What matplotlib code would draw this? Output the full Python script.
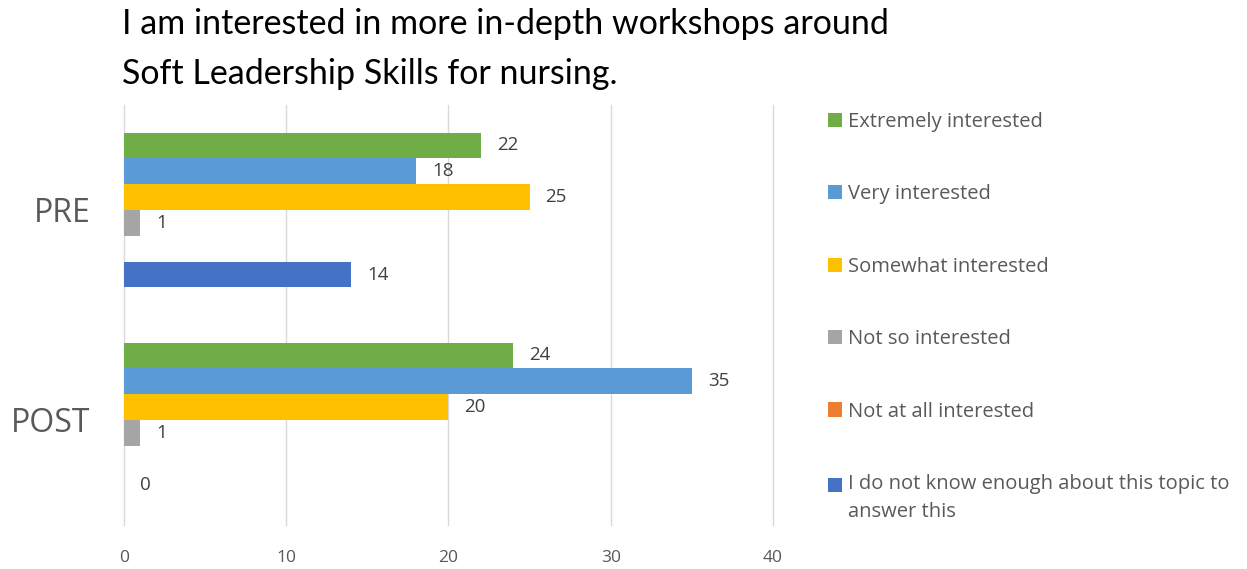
import numpy as np
import matplotlib
matplotlib.use("Agg")
import matplotlib.pyplot as plt
from matplotlib.patches import Patch, Rectangle
from matplotlib.legend_handler import HandlerPatch

categories = ["PRE", "POST"]
series = ["Extremely interested", "Very interested", "Somewhat interested",
          "Not so interested", "Not at all interested",
          "I do not know enough about this topic to\nanswer this"]
values = {
    "Extremely interested": [22, 24],
    "Very interested": [18, 35],
    "Somewhat interested": [25, 20],
    "Not so interested": [1, 1],
    "Not at all interested": [np.nan, np.nan],
    "I do not know enough about this topic to\nanswer this": [14, 0],
}
colors = ["#70AD47", "#5B9BD5", "#FFC000", "#A5A5A5", "#ED7D31", "#4472C4"]
xticks = [0, 10, 20, 30, 40]
title = "I am interested in more in-depth workshops around\nSoft Leadership Skills for nursing."

W, H = 1247, 569
fig = plt.figure(figsize=(W / 100, H / 100), dpi=100)
ax = fig.add_axes([124 / W, 1 - 525 / H, (773 - 124) / W, 420 / H])

font = "Open Sans"
txt_col = "#595959"
n = len(series)
bh = 25.8 / 210
y0 = np.arange(len(categories))
for i, s in enumerate(series):
    v = np.array(values[s], dtype=float)
    ypos = y0 + (i - (n - 1) / 2) * bh
    ax.barh(ypos, np.nan_to_num(v), height=bh, color=colors[i], label=s)
    for yy, vv in zip(ypos, v):
        if not np.isnan(vv):
            ax.annotate(f"{vv:g}", (vv, yy), xytext=(11.5, 0), textcoords="offset points",
                        va="center", ha="left", fontsize=13.5, color="#404040", family=font)

ax.set_ylim(len(categories) - 0.5, -0.5)
ax.set_xlim(0, 40)
ax.set_xticks(xticks)
ax.set_xticklabels([str(t) for t in xticks], family=font, fontsize=12.5, color=txt_col)
ax.set_yticks(y0)
ax.set_yticklabels(categories, family=font, fontsize=23, color=txt_col)
ax.tick_params(axis="x", length=0, pad=18)
ax.tick_params(axis="y", length=0, pad=24)
ax.grid(axis="x", color="#D9D9D9", linewidth=1)
for gl in ax.get_xgridlines():
    gl.set_clip_on(False)
ax.set_axisbelow(True)
for sp in ax.spines.values():
    sp.set_visible(False)

fig.text(122 / W, 1 - 8 / H, title, ha="left", va="top", fontsize=24.5,
         family="Lato", color="#000000", linespacing=1.7)


def shifted_square(legend, orig_handle, xdescent, ydescent, width, height, fontsize):
    return Rectangle((-xdescent, -ydescent + 10), width, height)


handles = [Patch(facecolor=c, edgecolor="none") for c in colors]
handler_map = {handles[-1]: HandlerPatch(patch_func=shifted_square)}
leg = fig.legend(handles, series, loc="upper left", bbox_to_anchor=(810 / W, 1 - 94 / H),
                 frameon=False, prop={"family": font, "size": 14.5},
                 labelspacing=2.6, handlelength=0.7, handleheight=0.7, handletextpad=0.3,
                 handler_map=handler_map)
for t in leg.get_texts():
    t.set_color(txt_col)
    t.set_linespacing(1.55)

fig.savefig("out.png", dpi=100)
